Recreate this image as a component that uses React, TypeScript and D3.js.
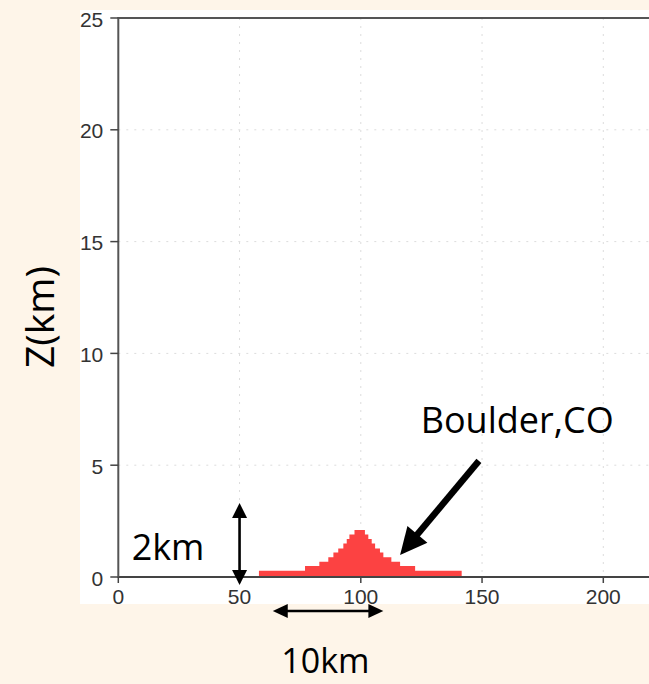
import React from 'react';
import * as d3 from 'd3';

const xTicks = [0, 50, 100, 150, 200];
const yTicks = [0, 5, 10, 15, 20, 25];
const gridX = [50, 100, 150, 200];
const gridY = [5, 10, 15, 20];

// terrain step edges (x units) and heights (km) of each step
const terrainEdges = [58, 77.0, 82.9, 86.6, 88.7, 90.7, 92.8, 94.2, 95.3, 97.4, 101.7, 103.1, 104.5, 105.9, 107.9, 109.3, 112.6, 116.2, 122.4, 141.6];
const terrainHeights = [0.28, 0.49, 0.68, 0.88, 1.1, 1.28, 1.5, 1.7, 1.9, 2.1, 1.9, 1.7, 1.5, 1.28, 1.1, 0.88, 0.68, 0.49, 0.28];

const W = 649;
const H = 684;

function head(tx: number, ty: number, ux: number, uy: number, len: number, w: number) {
  const bx = tx - ux * len;
  const by = ty - uy * len;
  const px = -uy;
  const py = ux;
  return `M${tx},${ty}L${bx + (px * w) / 2},${by + (py * w) / 2}L${bx - (px * w) / 2},${by - (py * w) / 2}Z`;
}

export default function App() {
  const x = d3.scaleLinear().domain([0, 200]).range([118.3, 603.3]);
  const y = d3.scaleLinear().domain([0, 25]).range([577, 18]);

  const pts: [number, number][] = terrainEdges.map((e, i) => [e, terrainHeights[Math.min(i, terrainHeights.length - 1)]]);
  const area = d3
    .area<[number, number]>()
    .x((d) => x(d[0]))
    .y0(y(0))
    .y1((d) => y(d[1]))
    .curve(d3.curveStepAfter);

  const tickFont = '"Liberation Sans", Arial, sans-serif';
  const annFont = '"Open Sans", "Noto Sans", sans-serif';

  // vertical double arrow (2km)
  const vx = x(50);
  const vTop = y(3.31);
  const vBot = y(-0.36);
  // horizontal double arrow (10km)
  const hy = y(-1.52);
  const hL = x(63.7);
  const hR = x(109.3);
  // Boulder arrow
  const sx = x(148.7), sy = y(5.19);
  const tx = x(116.2), ty = y(0.98);
  const dx = tx - sx, dy = ty - sy;
  const dl = Math.hypot(dx, dy);
  const ux = dx / dl, uy = dy / dl;
  const bHeadLen = 27;

  return (
    <svg width={W} height={H} style={{ position: 'absolute', left: 0, top: 0 }}>
      <defs>
        <clipPath id="panel">
          <rect x={80} y={10} width={W - 80} height={594} />
        </clipPath>
      </defs>
      <rect x={0} y={0} width={W} height={H} fill="#fef5e9" />
      <rect x={80} y={10} width={W - 80} height={594} fill="#ffffff" />
      <g clipPath="url(#panel)">
        {gridX.map((v) => (
          <line key={'gx' + v} x1={x(v)} x2={x(v)} y1={y(25)} y2={y(0)} stroke="#dcdcdc" strokeWidth={1} strokeDasharray="2,6" />
        ))}
        {gridY.map((v) => (
          <line key={'gy' + v} x1={x(0)} x2={W} y1={y(v)} y2={y(v)} stroke="#dcdcdc" strokeWidth={1} strokeDasharray="2,6" />
        ))}
        <path d={area(pts) || ''} fill="#fc4242" />
        <line x1={x(0)} x2={W} y1={y(25)} y2={y(25)} stroke="#555" strokeWidth={2} />
        <line x1={x(0)} x2={W} y1={y(0)} y2={y(0)} stroke="#444" strokeWidth={2} />
        <line x1={x(0)} x2={x(0)} y1={y(25) - 1} y2={y(0) + 1} stroke="#555" strokeWidth={2} />
        {yTicks.map((v) => (
          <g key={'yt' + v}>
            <line x1={x(0) - 8} x2={x(0)} y1={y(v)} y2={y(v)} stroke="#444" strokeWidth={1.5} />
            <text x={x(0) - 15} y={y(v) + 1} textAnchor="end" dominantBaseline="central" fontFamily={tickFont} fontSize={21} fill="#333">
              {v}
            </text>
          </g>
        ))}
        {xTicks.map((v) => (
          <g key={'xt' + v}>
            <line x1={x(v)} x2={x(v)} y1={y(0)} y2={y(0) + 6} stroke="#444" strokeWidth={1.5} />
            <text x={x(v)} y={y(0) + 27} textAnchor="middle" fontFamily={tickFont} fontSize={21} fill="#333">
              {v}
            </text>
          </g>
        ))}
      </g>

      {/* 2km vertical double arrow */}
      <line x1={vx} x2={vx} y1={vTop + 12} y2={vBot - 12} stroke="#000" strokeWidth={2.6} />
      <path d={head(vx, vTop, 0, -1, 15, 15)} fill="#000" />
      <path d={head(vx, vBot, 0, 1, 15, 15)} fill="#000" />
      <text x={x(5.5)} y={y(0.76)} fontFamily={annFont} fontSize={36} fill="#000">2km</text>

      {/* 10km horizontal double arrow */}
      <line x1={hL + 12} x2={hR - 12} y1={hy} y2={hy} stroke="#000" strokeWidth={2.6} />
      <path d={head(hL, hy, -1, 0, 15, 14)} fill="#000" />
      <path d={head(hR, hy, 1, 0, 15, 14)} fill="#000" />
      <text x={x(85.4)} y={y(-4.3)} textAnchor="middle" fontFamily={annFont} fontSize={34} fill="#000">10km</text>

      {/* Boulder arrow */}
      <line x1={sx} y1={sy} x2={tx - ux * (bHeadLen - 4)} y2={ty - uy * (bHeadLen - 4)} stroke="#000" strokeWidth={6.5} />
      <path d={head(tx, ty, ux, uy, bHeadLen, 26)} fill="#000" />
      <text x={x(124.7)} y={y(6.45)} fontFamily={annFont} fontSize={36} fill="#000">Boulder,CO</text>

      <text
        transform={`translate(38,317) rotate(-90)`}
        textAnchor="middle"
        dominantBaseline="central"
        fontFamily={annFont}
        fontSize={39}
        fill="#000"
      >
        Z(km)
      </text>
    </svg>
  );
}
